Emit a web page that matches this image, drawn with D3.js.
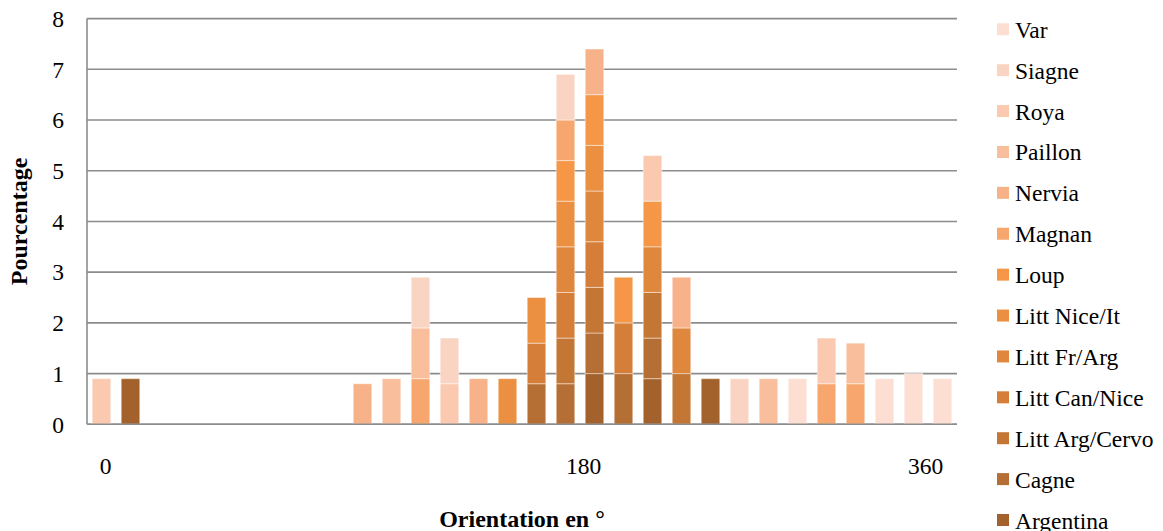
<!DOCTYPE html>
<html>
<head>
<meta charset="utf-8">
<script src="https://cdn.jsdelivr.net/npm/d3@7"></script>
<style>
  html, body { margin: 0; padding: 0; background: #ffffff; }
  svg { display: block; }
  text { font-family: "Liberation Serif", "Times New Roman", "DejaVu Serif", serif; fill: #000; }
</style>
</head>
<body>
<svg id="chart" width="1163" height="531"></svg>
<script>
// ---------------- DATA ----------------
const categories = ["0","12","24","36","48","60","72","84","96","108",
                    "120","132","144","156","168","180","192","204","216","228",
                    "240","252","264","276","288","300","312","324","336","348"];

const seriesNames = ["Argentina","Cagne","Litt Arg/Cervo","Litt Can/Nice","Litt Fr/Arg",
                     "Litt Nice/It","Loup","Magnan","Nervia","Paillon","Roya","Siagne","Var"];

const argentina   = [0,0.9,0,0,0, 0,0,0,0,0, 0,0,0,0,0, 0,0,1.0,0,0.9, 0,0.9,0,0,0, 0,0,0,0,0];
const cagne       = [0,0,0,0,0, 0,0,0,0,0, 0,0,0,0,0, 0.8,0.8,0.8,1.0,0.8, 0,0,0,0,0, 0,0,0,0,0];
const littArgCervo= [0,0,0,0,0, 0,0,0,0,0, 0,0,0,0,0, 0,0.9,0.9,0,0.9, 1.0,0,0,0,0, 0,0,0,0,0];
const littCanNice = [0,0,0,0,0, 0,0,0,0,0, 0,0,0,0,0, 0.8,0.9,0.9,1.0,0, 0,0,0,0,0, 0,0,0,0,0];
const littFrArg   = [0,0,0,0,0, 0,0,0,0,0, 0,0,0,0,0, 0,0.9,1.0,0,0.9, 0.9,0,0,0,0, 0,0,0,0,0];
const littNiceIt  = [0,0,0,0,0, 0,0,0,0,0, 0,0,0,0,0.9, 0.9,0.9,0.9,0,0, 0,0,0,0,0, 0,0,0,0,0];
const loup        = [0,0,0,0,0, 0,0,0,0,0, 0,0,0,0,0, 0,0.8,1.0,0.9,0.9, 0,0,0,0,0, 0,0,0,0,0];
const magnan      = [0,0,0,0,0, 0,0,0,0,0, 0,0.9,0,0,0, 0,0.8,0,0,0, 0,0,0,0,0, 0.8,0.8,0,0,0];
const nervia      = [0,0,0,0,0, 0,0,0,0,0.8, 0,0,0,0.9,0, 0,0,0.9,0,0, 1.0,0,0,0,0, 0,0,0,0,0];
const paillon     = [0,0,0,0,0, 0,0,0,0,0, 0.9,1.0,0,0,0, 0,0,0,0,0, 0,0,0,0.9,0, 0,0.8,0,0,0];
const roya        = [0.9,0,0,0,0, 0,0,0,0,0, 0,0,0.8,0,0, 0,0,0,0,0.9, 0,0,0,0,0, 0.9,0,0,0,0];
const siagne      = [0,0,0,0,0, 0,0,0,0,0, 0,1.0,0.9,0,0, 0,0.9,0,0,0, 0,0,0.9,0,0, 0,0,0,0,0];
const varR        = [0,0,0,0,0, 0,0,0,0,0, 0,0,0,0,0, 0,0,0,0,0, 0,0,0,0,0.9, 0,0,0.9,1.0,0.9];

const seriesValues = [argentina, cagne, littArgCervo, littCanNice, littFrArg,
                      littNiceIt, loup, magnan, nervia, paillon, roya, siagne, varR];

const seriesColors = ["#A3622B","#B56E33","#C47735","#D47E3A","#E0873E",
                      "#EB8F41","#F59746","#F7A66D","#F8B28A","#F9BE9C","#FAC9AF","#FAD4C2","#FCDED2"];

const yTicks = [0,1,2,3,4,5,6,7,8];
const xTickLabels = ["0","180","360"];
const xTickCats   = ["0","204","348"];

const yTitle = "Pourcentage";
const xTitle = "Orientation en °";

// ---------------- LAYOUT ----------------
const svg = d3.select("#chart");
const plot = { left: 87, right: 957, top: 18.6, bottom: 424.3 };
const FS = "23.5px";

const x = d3.scaleBand()
  .domain(categories)
  .range([plot.left, plot.right])
  .paddingInner(0.36)
  .paddingOuter(0.18);

const y = d3.scaleLinear().domain([0, 8]).range([plot.bottom, plot.top]);

// gridlines
svg.append("g").selectAll("line")
  .data(yTicks)
  .join("line")
  .attr("x1", plot.left).attr("x2", plot.right)
  .attr("y1", d => y(d)).attr("y2", d => y(d))
  .attr("stroke", "#8c8c8c").attr("stroke-width", 1.6);

// left axis line
svg.append("line")
  .attr("x1", plot.left).attr("x2", plot.left)
  .attr("y1", y(8)).attr("y2", y(0))
  .attr("stroke", "#8c8c8c").attr("stroke-width", 1.6);

// y tick labels
svg.append("g").selectAll("text")
  .data(yTicks)
  .join("text")
  .attr("x", 64)
  .attr("y", d => y(d))
  .attr("dy", "0.35em")
  .attr("text-anchor", "end")
  .style("font-size", FS)
  .text(d => d);

// stacked data
const table = categories.map((c, i) => {
  const row = { cat: c };
  seriesNames.forEach((s, k) => { row[s] = seriesValues[k][i]; });
  return row;
});
const stack = d3.stack().keys(seriesNames)(table);

const barsG = svg.append("g");
stack.forEach((layer, k) => {
  barsG.append("g")
    .selectAll("rect")
    .data(layer.filter(d => d[1] - d[0] > 0))
    .join("rect")
    .attr("x", d => x(d.data.cat))
    .attr("width", x.bandwidth())
    .attr("y", d => y(d[1]))
    .attr("height", d => y(d[0]) - y(d[1]))
    .attr("fill", seriesColors[k])
    .attr("stroke", "rgba(255,255,255,0.45)")
    .attr("stroke-width", 1);
});

// baseline redrawn on top
svg.append("line")
  .attr("x1", plot.left).attr("x2", plot.right)
  .attr("y1", y(0)).attr("y2", y(0))
  .attr("stroke", "#8c8c8c").attr("stroke-width", 1.6);

// x tick labels
const xNudge = [4, -11, -17];
svg.append("g").selectAll("text")
  .data(xTickLabels)
  .join("text")
  .attr("x", (d, i) => x(xTickCats[i]) + x.bandwidth() / 2 + xNudge[i])
  .attr("y", 474)
  .attr("text-anchor", "middle")
  .style("font-size", FS)
  .text(d => d);

// axis titles
svg.append("text")
  .attr("x", (plot.left + plot.right) / 2)
  .attr("y", 527)
  .attr("text-anchor", "middle")
  .style("font-size", "24px")
  .style("font-weight", "bold")
  .text(xTitle);

svg.append("text")
  .attr("transform", `translate(27, ${(plot.top + plot.bottom) / 2}) rotate(-90)`)
  .attr("text-anchor", "middle")
  .style("font-size", "24px")
  .style("font-weight", "bold")
  .text(yTitle);

// legend (reversed order, Var on top)
const legendItems = seriesNames.map((s, k) => ({ name: s, color: seriesColors[k] })).reverse();
const legend = svg.append("g");
const rowY = d3.scalePoint().domain(legendItems.map(d => d.name)).range([29.3, 520]);
legend.selectAll("rect")
  .data(legendItems)
  .join("rect")
  .attr("x", 997)
  .attr("y", d => rowY(d.name) - 6)
  .attr("width", 12).attr("height", 12)
  .attr("fill", d => d.color);
legend.selectAll("text")
  .data(legendItems)
  .join("text")
  .attr("x", 1015)
  .attr("y", d => rowY(d.name) + 8.5)
  .style("font-size", FS)
  .text(d => d.name);
</script>
</body>
</html>
